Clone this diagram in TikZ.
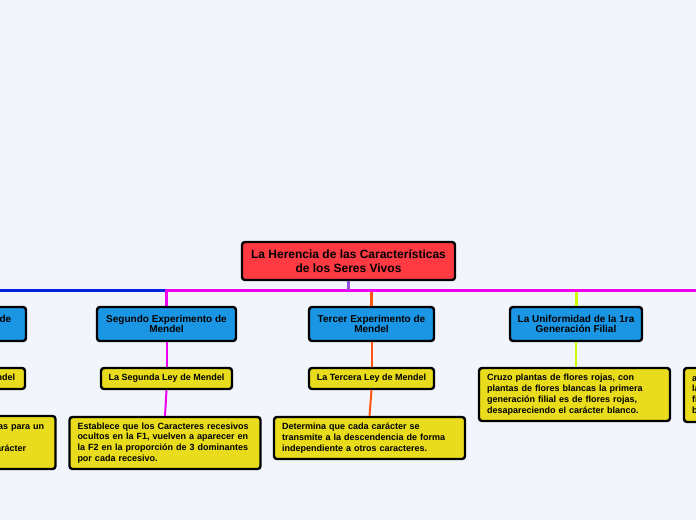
\documentclass[tikz,border=0pt]{standalone}
\usepackage{fontspec}
\setmainfont{Liberation Sans}
\usepackage{xcolor}
\usetikzlibrary{positioning, calc}

\definecolor{bgcol}{RGB}{243,245,253}
\definecolor{rootred}{RGB}{255,58,66}
\definecolor{expblue}{RGB}{27,150,228}
\definecolor{leyyellow}{RGB}{232,220,28}
\definecolor{linkblue}{RGB}{0,34,221}
\definecolor{linkmag}{RGB}{240,0,240}
\definecolor{linkorange}{RGB}{255,85,17}
\definecolor{linklime}{RGB}{204,255,0}
\definecolor{linkpurple}{RGB}{150,80,220}

\begin{document}
\begin{tikzpicture}[x=1pt, y=-1pt,
    box/.style={draw=black, line width=2.4pt, rounded corners=3pt, inner sep=0pt},
    rootbox/.style={box, fill=rootred, minimum width=213pt, minimum height=38pt,
        align=center, font=\fontsize{12}{13.5}\selectfont\bfseries},
    expbox/.style={box, fill=expblue, minimum height=34pt, align=center,
        font=\fontsize{10}{10.5}\selectfont\bfseries},
    leybox/.style={box, fill=leyyellow, minimum height=21pt,
        font=\fontsize{9}{10.8}\selectfont\bfseries},
    descbox/.style={box, fill=leyyellow, inner xsep=8pt, text width=175pt, align=left,
        font=\fontsize{9}{10.8}\selectfont\bfseries},
    bus/.style={line width=3pt},
    link/.style={line width=2pt}]

    % --- Canvas ---
    \useasboundingbox (0,0) rectangle (696,520);
    \clip (0,0) rectangle (696,520);
    \fill[bgcol] (0,0) rectangle (696,520);

    % --- Central topic ---
    \node[rootbox] (root) at (348.5,261) {La Herencia de las Características\\de los Seres Vivos};
    \coordinate (hub) at (348.5,290);

    % --- Experiments ---
    \node[expbox, minimum width=139pt] (exp1) at (-43.5,324) {Primer Experimento de\\Mendel};
    \node[expbox, minimum width=139pt] (exp2) at (166.5,324) {Segundo Experimento de\\Mendel};
    \node[expbox, minimum width=125pt] (exp3) at (371.5,324) {Tercer Experimento de\\Mendel};
    \node[expbox, minimum width=132pt] (unif) at (576,324) {La Uniformidad de la 1ra\\Generación Filial};
    \coordinate (exp5) at (780,306);

    % --- Laws ---
    \node[leybox, minimum width=131pt] (ley1) at (-40.5,378.5) {La Primera Ley de Mendel};
    \node[leybox, minimum width=131pt] (ley2) at (166.5,378.5) {La Segunda Ley de Mendel};
    \node[leybox, minimum width=125pt] (ley3) at (371.5,378.5) {La Tercera Ley de Mendel};

    % --- Descriptions ---
    \node[descbox, minimum height=53pt] (desc1) at (-40,442.5)
        {Mendel cruzó unas razas puras para un\\determinado rasgo,\\todas mostraban el mismo carácter\\dominante.};
    \node[descbox, minimum height=52pt] (desc2) at (165,443)
        {Establece que los Caracteres recesivos\\ocultos en la F1, vuelven a aparecer en\\la F2 en la proporción de 3 dominantes\\por cada recesivo.};
    \node[descbox, minimum height=42pt] (desc3) at (369.5,438)
        {Determina que cada carácter se\\transmite a la descendencia de forma\\independiente a otros caracteres.};
    \node[descbox, minimum height=53pt] (desc4) at (574.5,394.5)
        {Cruzo plantas de flores rojas, con\\plantas de flores blancas la primera\\generación filial es de flores rojas,\\desapareciendo el carácter blanco.};
    \node[descbox, minimum height=54pt] (desc5) at (779.5,395)
        {al cruzar entre sí la primera generación\\las flores blancas reaparecen en la\\filial siguiente, en proporción de\\blancas por cada tres rojas.};

    % --- Branches from the central topic ---
    \draw[bus, linklime] (root.south) -- (hub) -| (unif.north);
    \draw[bus, linkorange] (root.south) -- (hub) -| (exp3.north);
    \draw[bus, linkblue] (root.south) -- (hub) -| (exp1.north);
    \draw[bus, linkmag] (root.south) -- (hub) -| (exp2.north);
    \draw[bus, linkmag] (root.south) -- (hub) -| (exp5);
    \draw[bus, linkpurple] (root.south) -- (hub);

    % --- Sub branches ---
    \draw[link, linkblue] (exp1.south) -- (ley1.north);
    \draw[link, linkblue] (ley1.south) -- (desc1.north);
    \draw[link, linkmag] (exp2.south) -- (ley2.north);
    \draw[link, linkmag] (ley2.south) -- (desc2.north);
    \draw[link, linkorange] (exp3.south) -- (ley3.north);
    \draw[link, linkorange] (ley3.south) -- (desc3.north);
    \draw[link, linklime] (unif.south) -- (unif.south |- desc4.north);

\end{tikzpicture}
\end{document}
